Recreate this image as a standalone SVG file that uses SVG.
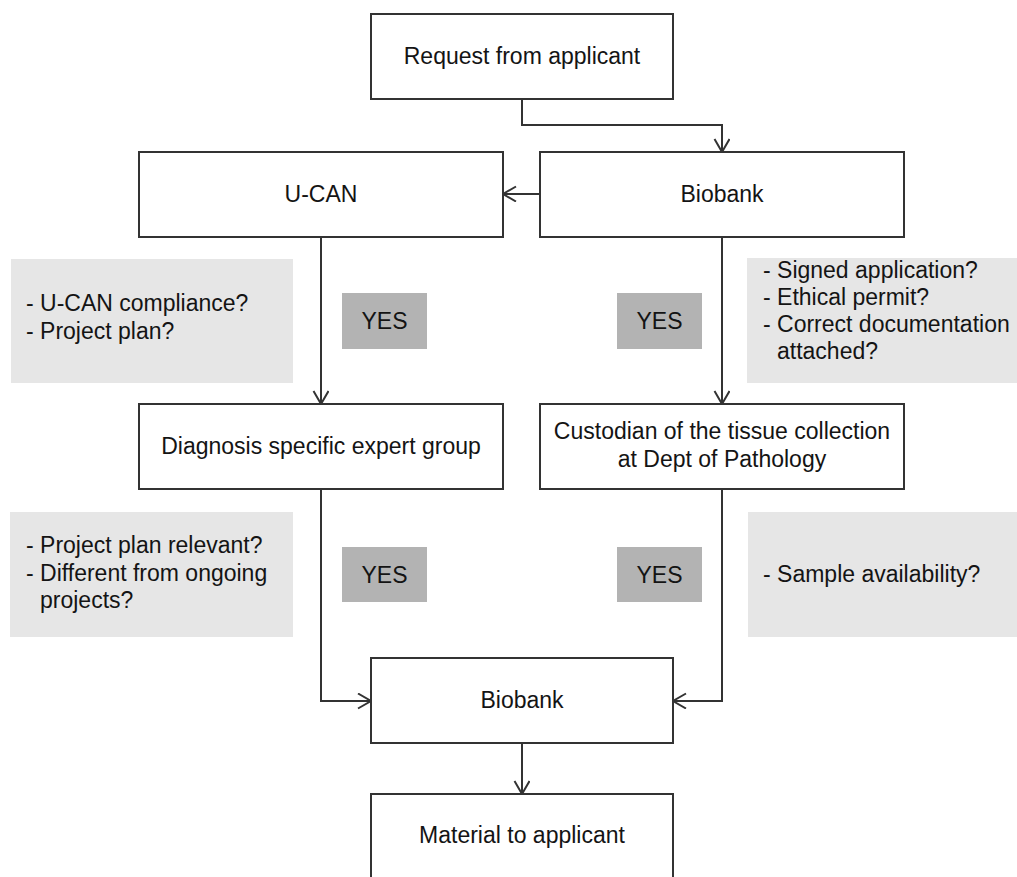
<svg xmlns="http://www.w3.org/2000/svg" width="1017" height="877" viewBox="0 0 1017 877">
<style>
.box{fill:#fff;stroke:#333;stroke-width:2}
.note{fill:#e6e6e6}
.yes{fill:#b3b3b3}
.t{font-family:"Liberation Sans",Arial,sans-serif;font-size:23px;fill:#141414}
.c{text-anchor:middle}
.con{fill:none;stroke:#333;stroke-width:2}
</style>
<defs>
<marker id="arr" markerUnits="userSpaceOnUse" markerWidth="18" markerHeight="18" refX="14" refY="8" orient="auto">
<path d="M1,0.5 L14,8 L1,15.5" fill="none" stroke="#333" stroke-width="2"/>
</marker>
</defs>
<rect width="1017" height="877" fill="#fff"/>

<g id="note-ucan">
<rect class="note" x="11" y="259" width="282" height="124"/>
<text class="t" x="26" y="311">- U-CAN compliance?</text>
<text class="t" x="26" y="339">- Project plan?</text>
</g>
<g id="note-biobank">
<rect class="note" x="747" y="258" width="275" height="125"/>
<text class="t" x="763" y="278">- Signed application?</text>
<text class="t" x="763" y="305">- Ethical permit?</text>
<text class="t" x="763" y="332">- Correct documentation</text>
<text class="t" x="777" y="359">attached?</text>
</g>
<g id="note-expert">
<rect class="note" x="10" y="512" width="283" height="125"/>
<text class="t" x="26" y="553">- Project plan relevant?</text>
<text class="t" x="26" y="581">- Different from ongoing</text>
<text class="t" x="40" y="608">projects?</text>
</g>
<g id="note-custodian">
<rect class="note" x="748" y="512" width="275" height="125"/>
<text class="t" x="763" y="582">- Sample availability?</text>
</g>

<g id="yes1"><rect class="yes" x="342" y="293" width="85" height="56"/><text class="t c" x="384.5" y="329">YES</text></g>
<g id="yes2"><rect class="yes" x="617" y="293" width="85" height="56"/><text class="t c" x="659.5" y="329">YES</text></g>
<g id="yes3"><rect class="yes" x="342" y="547" width="85" height="55"/><text class="t c" x="384.5" y="583">YES</text></g>
<g id="yes4"><rect class="yes" x="617" y="547" width="85" height="55"/><text class="t c" x="659.5" y="583">YES</text></g>

<g id="connectors">
<path class="con" d="M522,99 V125 H722 V152" marker-end="url(#arr)"/>
<path class="con" d="M540,194 H503" marker-end="url(#arr)"/>
<path class="con" d="M321,237 V404" marker-end="url(#arr)"/>
<path class="con" d="M722,237 V404" marker-end="url(#arr)"/>
<path class="con" d="M321,489 V701 H371" marker-end="url(#arr)"/>
<path class="con" d="M722,489 V701 H673" marker-end="url(#arr)"/>
<path class="con" d="M522,743 V794" marker-end="url(#arr)"/>
</g>

<g id="request"><rect class="box" x="371" y="14" width="302" height="85"/><text class="t c" x="522" y="64">Request from applicant</text></g>
<g id="ucan"><rect class="box" x="139" y="152" width="364" height="85"/><text class="t c" x="321" y="202">U-CAN</text></g>
<g id="biobank1"><rect class="box" x="540" y="152" width="364" height="85"/><text class="t c" x="722" y="202">Biobank</text></g>
<g id="expert"><rect class="box" x="139" y="404" width="364" height="85"/><text class="t c" x="321" y="454">Diagnosis specific expert group</text></g>
<g id="custodian"><rect class="box" x="540" y="404" width="364" height="85"/><text class="t c" x="722" y="439">Custodian of the tissue collection</text><text class="t c" x="722" y="467">at Dept of Pathology</text></g>
<g id="biobank2"><rect class="box" x="371" y="658" width="302" height="85"/><text class="t c" x="522" y="708">Biobank</text></g>
<g id="material"><rect class="box" x="371" y="794" width="302" height="86"/><text class="t c" x="522" y="843">Material to applicant</text></g>
</svg>
